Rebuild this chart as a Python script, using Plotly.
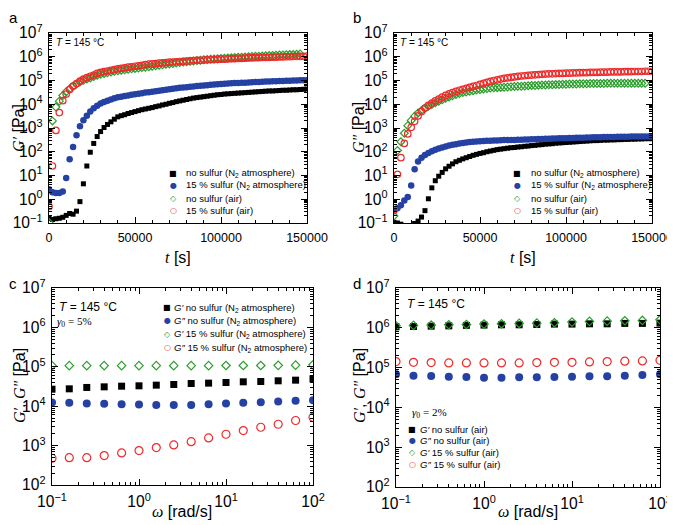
import plotly.graph_objects as go

# ---- panels a/b: time sweep at 145 C, moduli (log10 of Pa)
t_s = list(range(0, 150001, 2000))

a_black_log = [-0.80, -0.85, -0.82, -0.80, -0.76, -0.68, -0.60, -0.63, -0.50, -0.10,
               0.65, 1.40, 1.98, 2.35, 2.64, 2.85, 3.02, 3.15, 3.26, 3.37,
               3.47, 3.52, 3.56, 3.61, 3.65, 3.69, 3.73, 3.77, 3.80, 3.83,
               3.86, 3.90, 3.93, 3.97, 4.00, 4.04, 4.07, 4.11, 4.14, 4.17,
               4.20, 4.23, 4.26, 4.28, 4.30, 4.32, 4.34, 4.36, 4.38, 4.40,
               4.41, 4.43, 4.44, 4.45, 4.46, 4.47, 4.48, 4.49, 4.50, 4.51,
               4.52, 4.53, 4.54, 4.55, 4.56, 4.56, 4.57, 4.58, 4.59, 4.59,
               4.60, 4.61, 4.61, 4.62, 4.63, 4.64]
a_blue_log = [0.42, 0.30, 0.26, 0.26, 0.33, 0.90, 1.68, 2.20, 2.70, 3.07,
              3.33, 3.52, 3.70, 3.83, 3.94, 4.03, 4.09, 4.15, 4.20, 4.25,
              4.29, 4.32, 4.35, 4.37, 4.40, 4.42, 4.44, 4.46, 4.49, 4.51,
              4.53, 4.55, 4.57, 4.59, 4.61, 4.63, 4.65, 4.67, 4.69, 4.71,
              4.72, 4.74, 4.75, 4.77, 4.78, 4.79, 4.80, 4.82, 4.83, 4.84,
              4.85, 4.86, 4.87, 4.88, 4.89, 4.90, 4.91, 4.91, 4.92, 4.93,
              4.94, 4.94, 4.95, 4.96, 4.96, 4.97, 4.97, 4.98, 4.98, 4.99,
              4.99, 5.00, 5.00, 5.01, 5.01, 5.01]
a_green_log = [-0.98, 3.30, 3.88, 4.13, 4.37, 4.53, 4.65, 4.76, 4.85, 4.94,
               5.01, 5.06, 5.11, 5.17, 5.22, 5.26, 5.29, 5.33, 5.36, 5.39,
               5.41, 5.43, 5.45, 5.47, 5.49, 5.51, 5.53, 5.55, 5.56, 5.58,
               5.60, 5.62, 5.64, 5.66, 5.68, 5.70, 5.72, 5.74, 5.76, 5.78,
               5.79, 5.81, 5.82, 5.84, 5.85, 5.87, 5.88, 5.89, 5.91, 5.92,
               5.93, 5.94, 5.95, 5.96, 5.97, 5.98, 5.98, 5.99, 6.00, 6.01,
               6.02, 6.02, 6.03, 6.04, 6.05, 6.05, 6.06, 6.07, 6.07, 6.08,
               6.09, 6.10, 6.11, 6.12]
a_red_log = [-0.30, 1.40, 2.90, 3.65, 4.15, 4.43, 4.62, 4.76, 4.87, 4.97,
             5.06, 5.12, 5.18, 5.23, 5.30, 5.34, 5.37, 5.40, 5.43, 5.46,
             5.49, 5.51, 5.53, 5.56, 5.58, 5.60, 5.62, 5.64, 5.67, 5.69,
             5.70, 5.71, 5.73, 5.74, 5.75, 5.77, 5.78, 5.79, 5.80, 5.81,
             5.82, 5.83, 5.84, 5.85, 5.85, 5.86, 5.87, 5.88, 5.88, 5.89,
             5.90, 5.90, 5.91, 5.92, 5.92, 5.93, 5.93, 5.94, 5.95, 5.95,
             5.96, 5.96, 5.97, 5.97, 5.97, 5.98, 5.98, 5.99, 5.99, 6.00,
             6.00, 6.01, 6.01, 6.02, 6.02, 6.03]

b_black_log = [-0.97, -1.00, -1.05, -1.25, -1.30, -1.20, -1.02, -0.92, -0.75, -0.48,
               0.02, 0.48, 0.78, 0.97, 1.13, 1.28, 1.39, 1.49, 1.58, 1.64,
               1.70, 1.75, 1.80, 1.85, 1.89, 1.93, 1.96, 2.00, 2.03, 2.06,
               2.09, 2.11, 2.13, 2.15, 2.17, 2.18, 2.20, 2.21, 2.23, 2.24,
               2.26, 2.27, 2.29, 2.30, 2.32, 2.33, 2.34, 2.36, 2.37, 2.38,
               2.39, 2.40, 2.41, 2.42, 2.43, 2.44, 2.45, 2.46, 2.47, 2.47,
               2.48, 2.49, 2.49, 2.50, 2.50, 2.51, 2.51, 2.52, 2.52, 2.53,
               2.53, 2.54, 2.54, 2.55, 2.55, 2.55]
b_blue_log = [-0.50, -0.38, -0.25, -0.05, 0.10, 0.58, 1.26, 1.59, 1.75, 1.86,
              1.95, 2.02, 2.08, 2.14, 2.18, 2.22, 2.26, 2.29, 2.32, 2.35,
              2.37, 2.39, 2.41, 2.42, 2.43, 2.44, 2.45, 2.46, 2.46, 2.47,
              2.47, 2.48, 2.49, 2.49, 2.50, 2.50, 2.51, 2.51, 2.52, 2.52,
              2.53, 2.53, 2.54, 2.54, 2.55, 2.55, 2.56, 2.56, 2.57, 2.57,
              2.57, 2.58, 2.58, 2.59, 2.59, 2.59, 2.60, 2.60, 2.61, 2.61,
              2.61, 2.62, 2.62, 2.62, 2.62, 2.63, 2.63, 2.63, 2.63, 2.64,
              2.64, 2.64, 2.64, 2.64, 2.64, 2.64]
b_green_log = [-0.70, 2.05, 2.42, 2.78, 3.10, 3.32, 3.50, 3.63, 3.74, 3.83,
               3.92, 3.99, 4.06, 4.13, 4.19, 4.25, 4.31, 4.36, 4.41, 4.45,
               4.49, 4.52, 4.55, 4.57, 4.60, 4.62, 4.64, 4.66, 4.68, 4.69,
               4.70, 4.71, 4.72, 4.73, 4.74, 4.75, 4.76, 4.76, 4.77, 4.78,
               4.79, 4.79, 4.80, 4.81, 4.81, 4.82, 4.82, 4.83, 4.83, 4.84,
               4.84, 4.85, 4.85, 4.85, 4.86, 4.86, 4.86, 4.87, 4.87, 4.87,
               4.87, 4.87, 4.88, 4.88, 4.88, 4.88, 4.88, 4.88, 4.88, 4.88,
               4.88, 4.88, 4.88, 4.88]
b_red_log = [-0.44, 1.05, 1.75, 2.35, 2.75, 3.03, 3.28, 3.51, 3.69, 3.84,
             3.95, 4.05, 4.14, 4.22, 4.30, 4.37, 4.44, 4.49, 4.54, 4.59,
             4.63, 4.67, 4.71, 4.75, 4.79, 4.84, 4.88, 4.92, 4.96, 5.00,
             5.03, 5.06, 5.09, 5.11, 5.13, 5.15, 5.17, 5.19, 5.20, 5.22,
             5.23, 5.24, 5.25, 5.26, 5.27, 5.28, 5.28, 5.29, 5.30, 5.30,
             5.31, 5.31, 5.32, 5.32, 5.33, 5.33, 5.33, 5.34, 5.34, 5.34,
             5.35, 5.35, 5.35, 5.36, 5.36, 5.36, 5.36, 5.37, 5.37, 5.37,
             5.38, 5.38, 5.38, 5.39, 5.39, 5.39]

# ---- panels c/d: frequency sweeps (Pa)
omega = [0.1, 0.158, 0.251, 0.398, 0.631, 1.0, 1.58, 2.51, 3.98, 6.31,
         10.0, 15.8, 25.1, 39.8, 63.1, 100.0]

c_gp_nosulfur = [2.70e4, 2.76e4, 2.99e4, 3.10e4, 3.22e4, 3.29e4, 3.42e4, 3.56e4,
                 3.77e4, 3.85e4, 4.00e4, 4.16e4, 4.24e4, 4.41e4, 4.58e4, 4.95e4]
c_gpp_nosulfur = [1.24e4, 1.22e4, 1.17e4, 1.15e4, 1.12e4, 1.10e4, 1.08e4, 1.08e4,
                  1.08e4, 1.12e4, 1.17e4, 1.22e4, 1.26e4, 1.32e4, 1.37e4, 1.42e4]
c_gp_sulfur = [1.07e5, 1.07e5, 1.07e5, 1.07e5, 1.07e5, 1.07e5, 1.07e5, 1.07e5,
               1.07e5, 1.07e5, 1.08e5, 1.08e5, 1.08e5, 1.09e5, 1.10e5, 1.12e5]
c_gpp_sulfur = [477, 495, 495, 557, 651, 747, 890, 1040,
                1260, 1570, 1940, 2400, 2920, 3480, 4330, 5250]

d_gp_nosulfur = [1.06e6, 1.08e6, 1.10e6, 1.12e6, 1.15e6, 1.17e6, 1.19e6, 1.19e6,
                 1.21e6, 1.24e6, 1.24e6, 1.26e6, 1.26e6, 1.29e6, 1.29e6, 1.31e6]
d_gpp_nosulfur = [6.79e4, 6.28e4, 6.17e4, 5.93e4, 5.82e4, 5.59e4, 5.59e4, 5.70e4,
                  5.70e4, 5.82e4, 5.93e4, 6.05e4, 6.05e4, 6.28e4, 6.53e4, 6.79e4]
d_gp_sulfur = [1.12e6, 1.15e6, 1.17e6, 1.19e6, 1.21e6, 1.24e6, 1.26e6, 1.29e6,
               1.31e6, 1.34e6, 1.39e6, 1.45e6, 1.47e6, 1.50e6, 1.53e6, 1.59e6]
d_gpp_sulfur = [1.42e5, 1.36e5, 1.34e5, 1.31e5, 1.31e5, 1.31e5, 1.31e5, 1.31e5,
                1.34e5, 1.36e5, 1.36e5, 1.39e5, 1.42e5, 1.45e5, 1.47e5, 1.53e5]

legend_ab = ["no sulfur (N<sub>2</sub> atmosphere)", "15 % sulfur (N<sub>2</sub> atmosphere)",
             "no sulfur (air)", "15 % sulfur (air)"]
legend_c = ["<i>G′</i> no sulfur (N<sub>2</sub> atmosphere)", "<i>G″</i> no sulfur (N<sub>2</sub> atmosphere)",
            "<i>G′</i> 15 % sulfur (N<sub>2</sub> atmosphere)", "<i>G″</i> 15 % sulfur (N<sub>2</sub> atmosphere)"]
legend_d = ["<i>G′</i> no sulfur (air)", "<i>G″</i> no sulfur (air)",
            "<i>G′</i> 15 % sulfur (air)", "<i>G″</i> 15 % sulfur (air)"]

BLACK, BLUE, GREEN, RED = "#000000", "#2441a3", "#2a9d2a", "#ee2a2a"
SANS = "Liberation Sans, Arial, sans-serif"
SERIF = "Liberation Serif, Times New Roman, serif"

# page body has an 8px margin, so the figure is shifted by that much
OFF = 8
W, H = 675 - OFF, 525 - OFF

styles = [dict(symbol="square", color=BLACK),
          dict(symbol="circle", color=BLUE),
          dict(symbol="diamond-open", color=GREEN, line=dict(width=1.2, color=GREEN)),
          dict(symbol="circle-open", color=RED, line=dict(width=1.2, color=RED))]
sizes_ab = [5, 6.5, 6, 6.5]
sizes_cd = [7, 8, 6.5, 8]
glyphs = ["■", "●", "◇", "○"]
glyph_colors = [BLACK, BLUE, GREEN, RED]

fig = go.Figure()

def add_series(xs, ys_list, xa, ya, sizes):
    for ys, st, sz in zip(ys_list, styles, sizes):
        fig.add_trace(go.Scatter(x=xs[:len(ys)], y=ys, mode="markers", xaxis=xa, yaxis=ya,
                                 marker=dict(size=sz, **st), showlegend=False))

add_series(t_s, [[10 ** v for v in s] for s in (a_black_log, a_blue_log, a_green_log, a_red_log)],
           "x", "y", sizes_ab)
add_series(t_s, [[10 ** v for v in s] for s in (b_black_log, b_blue_log, b_green_log, b_red_log)],
           "x2", "y2", sizes_ab)
add_series(omega, [c_gp_nosulfur, c_gpp_nosulfur, c_gp_sulfur, c_gpp_sulfur], "x3", "y3", sizes_cd)
add_series(omega, [d_gp_nosulfur, d_gpp_nosulfur, d_gp_sulfur, d_gpp_sulfur], "x4", "y4", sizes_cd)

common = dict(showline=True, linecolor="black", linewidth=1, mirror="ticks", ticks="inside",
              ticklen=6, tickwidth=1, tickcolor="black", showgrid=False, zeroline=False,
              automargin=False,
              tickfont=dict(family=SANS, size=12.5, color="black"), ticklabelstandoff=3)

def log_axis(rng, dom, anchor):
    return dict(type="log", range=rng, domain=dom, anchor=anchor, dtick=1, exponentformat="power",
                labelalias={"1": "10<sup>0</sup>", "10": "10<sup>1</sup>"},
                minor=dict(ticks="inside", ticklen=3, dtick="D1", tickcolor="black"), **common)

def time_axis(dom, anchor):
    return dict(range=[0, 150000], domain=dom, anchor=anchor, dtick=50000, tickformat="d",
                minor=dict(ticks="inside", ticklen=3, dtick=10000, tickcolor="black"), **common)

def hdom(left, right):
    return [(left - OFF) / W, (right - OFF) / W]

def vdom(top, bottom):
    return [1 - (bottom - OFF) / H, 1 - (top - OFF) / H]

fig.update_layout(
    template="none",
    width=W, height=H, margin=dict(l=0, r=0, t=0, b=0, pad=0),
    plot_bgcolor="white", paper_bgcolor="white", showlegend=False,
    xaxis=time_axis(hdom(49, 307), "y"),
    yaxis=log_axis([-1, 7], vdom(33, 223), "x"),
    xaxis2=time_axis(hdom(394, 652), "y2"),
    yaxis2=log_axis([-1, 7], vdom(33, 223), "x2"),
    xaxis3=log_axis([-1, 2], hdom(52, 313), "y3"),
    yaxis3=log_axis([2, 7], vdom(288, 485), "x3"),
    xaxis4=log_axis([-1, 2], hdom(396, 660), "y4"),
    yaxis4=log_axis([2, 7], vdom(288, 487), "x4"),
)

notes = []

def note(text, x, y, size=10, xanchor="left", angle=0, family=SANS, color="black"):
    notes.append(dict(text=text, x=(x - OFF) / W, y=1 - (y - OFF) / H, xref="paper", yref="paper",
                      xanchor=xanchor, yanchor="middle", showarrow=False, textangle=angle,
                      font=dict(size=size, family=family, color=color)))

# panel letters
for letter, x, y in [("a", 13, 17), ("b", 357, 17), ("c", 13, 283), ("d", 357, 283)]:
    note(letter, x, y, size=15, xanchor="center")

# axis titles
gp = "<span style='font-family:Liberation Serif'><i>G′</i></span>"
gpp = "<span style='font-family:Liberation Serif'><i>G″</i></span>"
note(gp + " [Pa]", 19, 128, size=16, xanchor="center", angle=-90)
note(gpp + " [Pa]", 359, 128, size=16, xanchor="center", angle=-90)
note(gp + ", " + gpp + " [Pa]", 19, 386, size=16, xanchor="center", angle=-90)
note(gp + ", " + gpp + " [Pa]", 359, 386, size=16, xanchor="center", angle=-90)
tt = "<span style='font-family:Liberation Serif'><i>t</i></span> [s]"
ww = "<span style='font-family:Liberation Serif'><i>ω</i></span> [rad/s]"
note(tt, 178, 257, size=16, xanchor="center")
note(tt, 523, 257, size=16, xanchor="center")
note(ww, 182, 511, size=16, xanchor="center")
note(ww, 528, 511, size=16, xanchor="center")

# temperature / strain labels
temp = "<i>T</i> = 145 °C"
note(temp, 54, 43, size=10)
note(temp, 398, 43, size=10)
note(temp, 57, 307, size=12)
note(temp, 405, 304, size=12)
note("<i>γ</i><sub>0</sub> = 5%", 55, 322, size=11, family=SERIF)
note("<i>γ</i><sub>0</sub> = 2%", 410, 413, size=11, family=SERIF)

# legends
def legend_rows(labels, sx, tx, rows, size):
    for lab, g, col, y in zip(labels, glyphs, glyph_colors, rows):
        note(g, sx, y, size=size, xanchor="center", color=col, family="DejaVu Sans")
        note(lab, tx, y, size=9.5)

legend_rows(legend_ab, 173, 184, [173, 185.5, 198.5, 210.5], 8)
legend_rows(legend_ab, 517, 529, [173, 185.5, 198.5, 210.5], 8)
legend_rows(legend_c, 167, 172, [307.5, 320.5, 334, 347.5], 8)
legend_rows(legend_d, 412, 418, [429, 440.5, 452.5, 464], 8)

fig.update_layout(annotations=notes)

fig.write_html("out.html")
